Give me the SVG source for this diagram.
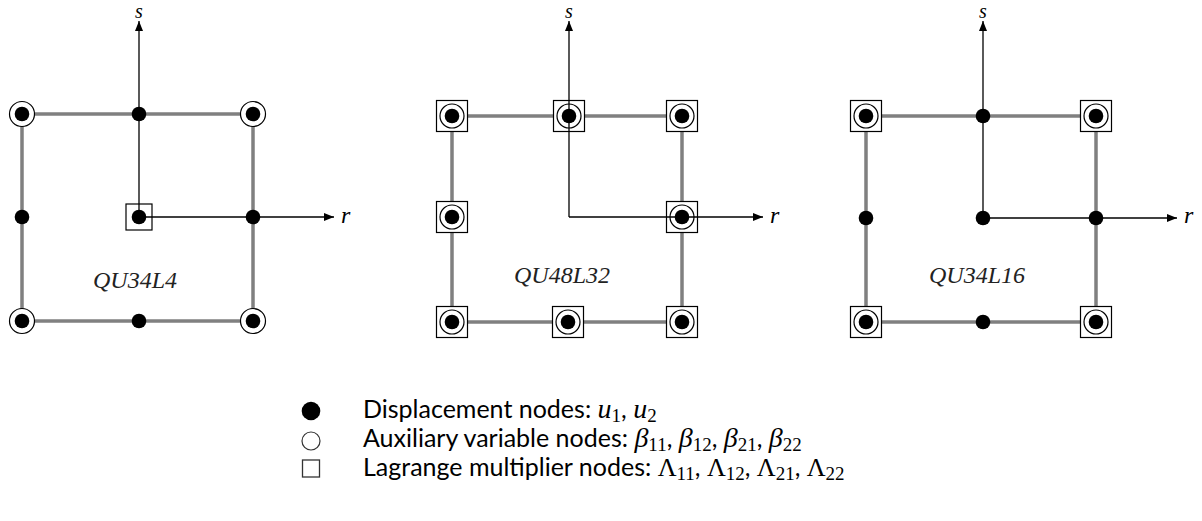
<svg xmlns="http://www.w3.org/2000/svg" width="1202" height="521" viewBox="0 0 1202 521">
<style>
.edge{stroke:#808080;stroke-width:3.5;fill:none}
.axis{stroke:#000;stroke-width:1.3;fill:none;marker-end:url(#arr)}
.dot{fill:#000}
.ring{fill:#fff;stroke:#000;stroke-width:1.2}
.box{fill:#fff;stroke:#000;stroke-width:1.2}
.lab{font-family:"Liberation Serif",serif;font-style:italic;font-size:24px;fill:#222;text-anchor:middle}
.ax{font-family:"Liberation Serif",serif;font-style:italic;font-size:24px;fill:#000}
.axs{font-family:"Liberation Serif",serif;font-style:italic;font-size:20px;fill:#000}
.leg{font-family:Lato,"Liberation Sans",sans-serif;font-size:25px;fill:#000}
.mi{font-family:"Liberation Serif",serif;font-style:italic;font-size:28px}
.mu{font-family:"Liberation Serif",serif;font-size:26px}
.sub{font-family:"Liberation Serif",serif;font-size:19px}
</style>
<defs>
<marker id="arr" markerWidth="10" markerHeight="8" refX="10" refY="4" orient="auto" markerUnits="userSpaceOnUse">
<path d="M0,0 L10,4 L0,8 Z" fill="#000"/>
</marker>
<g id="d"><circle r="7.3" class="dot"/></g>
<g id="cd"><circle r="12.5" class="ring"/><circle r="7.3" class="dot"/></g>
<g id="scd"><rect x="-15.5" y="-15.5" width="31" height="31" class="box"/><circle r="12" class="ring"/><circle r="7.3" class="dot"/></g>
</defs>

<g id="edges">
<rect x="22" y="114" width="231" height="207" class="edge"/>
<rect x="452" y="116" width="230" height="206" class="edge"/>
<rect x="866" y="116" width="230" height="206" class="edge"/>
</g>

<g id="QU34L4">
<use href="#cd" x="22" y="114"/><use href="#d" x="139" y="114"/><use href="#cd" x="253" y="114"/>
<use href="#d" x="22" y="217"/><rect x="126" y="204" width="26" height="26" class="box"/><use href="#d" x="139" y="217"/><use href="#d" x="253" y="217"/>
<use href="#cd" x="22" y="321"/><use href="#d" x="139" y="321"/><use href="#cd" x="253" y="321"/>
<text x="135" y="288" class="lab">QU34L4</text>
</g>

<g id="QU48L32">
<use href="#scd" x="452" y="116"/><use href="#scd" x="569" y="116"/><use href="#scd" x="682" y="116"/>
<use href="#scd" x="452" y="217"/><use href="#scd" x="682" y="217"/>
<use href="#scd" x="452" y="322"/><use href="#scd" x="568" y="322"/><use href="#scd" x="682" y="322"/>
<text x="562" y="283" class="lab">QU48L32</text>
</g>

<g id="QU34L16">
<use href="#scd" x="866" y="116"/><use href="#d" x="983" y="116"/><use href="#scd" x="1096" y="116"/>
<use href="#d" x="866" y="218"/><use href="#d" x="983" y="218"/><use href="#d" x="1096" y="218"/>
<use href="#scd" x="866" y="322"/><use href="#d" x="983" y="322"/><use href="#scd" x="1096" y="322"/>
<text x="977" y="283" class="lab">QU34L16</text>
</g>

<g id="connectors">
<path d="M139,217 V21" class="axis"/>
<path d="M139,217 H334" class="axis"/>
<path d="M569,217 V21" class="axis"/>
<path d="M569,217 H763" class="axis"/>
<path d="M983,218 V21" class="axis"/>
<path d="M983,218 H1177" class="axis"/>
</g>

<g id="axis-labels">
<text x="135" y="18" class="axs">s</text>
<text x="341" y="223" class="ax">r</text>
<text x="565" y="18" class="axs">s</text>
<text x="770" y="223" class="ax">r</text>
<text x="979" y="18" class="axs">s</text>
<text x="1184" y="223" class="ax">r</text>
</g>

<g id="legend">
<circle cx="311" cy="411" r="9.3" class="dot"/>
<circle cx="311" cy="441" r="9" fill="none" stroke="#333" stroke-width="1.2"/>
<rect x="302.5" y="460" width="17" height="17" fill="none" stroke="#333" stroke-width="1.3"/>
<text x="363" y="418" class="leg">Displacement nodes: <tspan class="mi">u</tspan><tspan class="sub" dy="4">1</tspan><tspan dy="-4">, </tspan><tspan class="mi">u</tspan><tspan class="sub" dy="4">2</tspan></text>
<text x="363" y="447" class="leg">Auxiliary variable nodes: <tspan class="mi">β</tspan><tspan class="sub" dy="4">11</tspan><tspan dy="-4">, </tspan><tspan class="mi">β</tspan><tspan class="sub" dy="4">12</tspan><tspan dy="-4">, </tspan><tspan class="mi">β</tspan><tspan class="sub" dy="4">21</tspan><tspan dy="-4">, </tspan><tspan class="mi">β</tspan><tspan class="sub" dy="4">22</tspan></text>
<text x="363" y="476" class="leg">Lagrange multiplier nodes: <tspan class="mu">Λ</tspan><tspan class="sub" dy="4">11</tspan><tspan dy="-4">, </tspan><tspan class="mu">Λ</tspan><tspan class="sub" dy="4">12</tspan><tspan dy="-4">, </tspan><tspan class="mu">Λ</tspan><tspan class="sub" dy="4">21</tspan><tspan dy="-4">, </tspan><tspan class="mu">Λ</tspan><tspan class="sub" dy="4">22</tspan></text>
</g>
</svg>
